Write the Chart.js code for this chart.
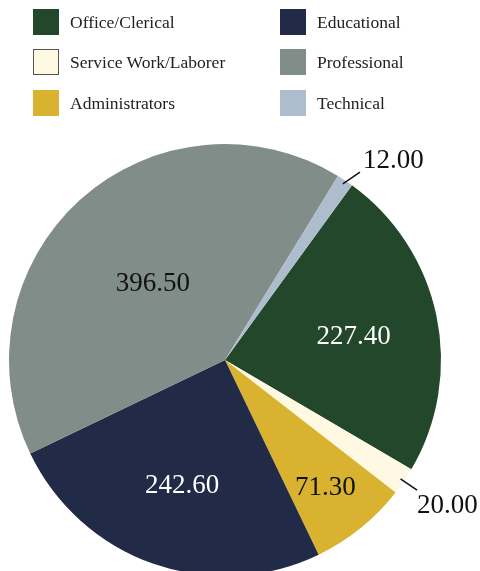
<!DOCTYPE html>
<html>
<head>
<meta charset="utf-8">
<script src="https://cdn.jsdelivr.net/npm/chart.js@4"></script>
<style>
    html, body { margin: 0; padding: 0; background: #fff; overflow: hidden; }
    #wrap { position: relative; width: 480px; height: 600px; }
    #legend { position: absolute; left: 0; top: 0; width: 480px; height: 130px; font-family: "Liberation Serif", "DejaVu Serif", serif; font-size: 17.5px; color: #222; }
    .item { position: absolute; height: 26px; line-height: 26px; white-space: nowrap; }
    .box { position: absolute; left: 0; top: 0; width: 26px; height: 26px; box-sizing: border-box; }
    .txt { position: absolute; left: 37px; top: 0; }
</style>
</head>
<body>
<div id="wrap">
    <canvas id="pie" width="480" height="600"></canvas>
    <div id="legend"></div>
</div>
<script>
// === DATA ===
const categories = ['Office/Clerical', 'Service Work/Laborer', 'Administrators', 'Educational', 'Professional', 'Technical'];
const values = [227.40, 20.00, 71.30, 242.60, 396.50, 12.00];
const valueLabels = ['227.40', '20.00', '71.30', '242.60', '396.50', '12.00'];

// === STYLES ===
const colors = ['#22472A', '#FFF9E3', '#D9B32F', '#212A47', '#808D88', '#AEBDCD'];
const labelColors = ['#ffffff', '#111111', '#111111', '#ffffff', '#111111', '#111111'];
const outside = [false, true, false, false, false, true];
const serif = '"Liberation Serif", "DejaVu Serif", serif';

// legend, two columns filled top to bottom
function buildLegend() {
    const legend = document.getElementById('legend');
    const rowsTop = [9, 49, 90];
    const colsLeft = [33, 280];
    categories.forEach((name, i) => {
        const col = Math.floor(i / 3);
        const row = i % 3;
        const item = document.createElement('div');
        item.className = 'item';
        item.style.left = colsLeft[col] + 'px';
        item.style.top = rowsTop[row] + 'px';

        const box = document.createElement('div');
        box.className = 'box';
        box.style.background = colors[i];
        if (i === 1) box.style.border = '1.5px solid #555';

        const txt = document.createElement('span');
        txt.className = 'txt';
        txt.textContent = name;

        item.appendChild(box);
        item.appendChild(txt);
        legend.appendChild(item);
    });
}

// value labels drawn on the slices
const sliceLabels = {
    id: 'sliceLabels',
    afterDatasetsDraw(chart) {
        const ctx = chart.ctx;
        const arcs = chart.getDatasetMeta(0).data;
        ctx.save();
        ctx.font = '27px ' + serif;
        arcs.forEach((arc, i) => {
            const { x, y, startAngle, endAngle, outerRadius } = arc.getProps(['x', 'y', 'startAngle', 'endAngle', 'outerRadius'], true);
            const mid = (startAngle + endAngle) / 2;
            const span = endAngle - startAngle;
            const cos = Math.cos(mid), sin = Math.sin(mid);
            if (outside[i]) {
                const x1 = x + cos * (outerRadius - 4), y1 = y + sin * (outerRadius - 4);
                let x2 = x + cos * (outerRadius + 16), y2 = y + sin * (outerRadius + 16);
                if (sin < 0) { x2 += 6; y2 += 5; }
                ctx.strokeStyle = '#111';
                ctx.lineWidth = 1.5;
                ctx.beginPath();
                ctx.moveTo(x1, y1);
                ctx.lineTo(x2, y2);
                ctx.stroke();
                ctx.fillStyle = '#111';
                ctx.textAlign = 'left';
                if (sin < 0) {
                    ctx.textBaseline = 'alphabetic';
                    ctx.fillText(valueLabels[i], x2 + 3, y2 - 4);
                } else {
                    ctx.textBaseline = 'top';
                    ctx.fillText(valueLabels[i], x2, y2 + 2);
                }
            } else {
                // centroid of the sector, pushed out for narrow slices
                let d = 4 * Math.sin(span / 2) / (3 * span);
                if (span < 0.6) d = 0.74;
                ctx.fillStyle = labelColors[i];
                ctx.textAlign = 'center';
                ctx.textBaseline = 'middle';
                ctx.fillText(valueLabels[i], x + cos * d * outerRadius, y + sin * d * outerRadius + 4);
            }
        });
        ctx.restore();
    }
};

buildLegend();

new Chart(document.getElementById('pie'), {
    type: 'pie',
    data: {
        labels: categories,
        datasets: [{
            data: values,
            backgroundColor: colors,
            borderWidth: 0
        }]
    },
    options: {
        responsive: false,
        animation: false,
        rotation: 36,
        layout: { padding: { left: 9, right: 39, top: 144, bottom: 24 } },
        plugins: {
            legend: { display: false },
            tooltip: { enabled: false }
        }
    },
    plugins: [sliceLabels]
});
</script>
</body>
</html>
